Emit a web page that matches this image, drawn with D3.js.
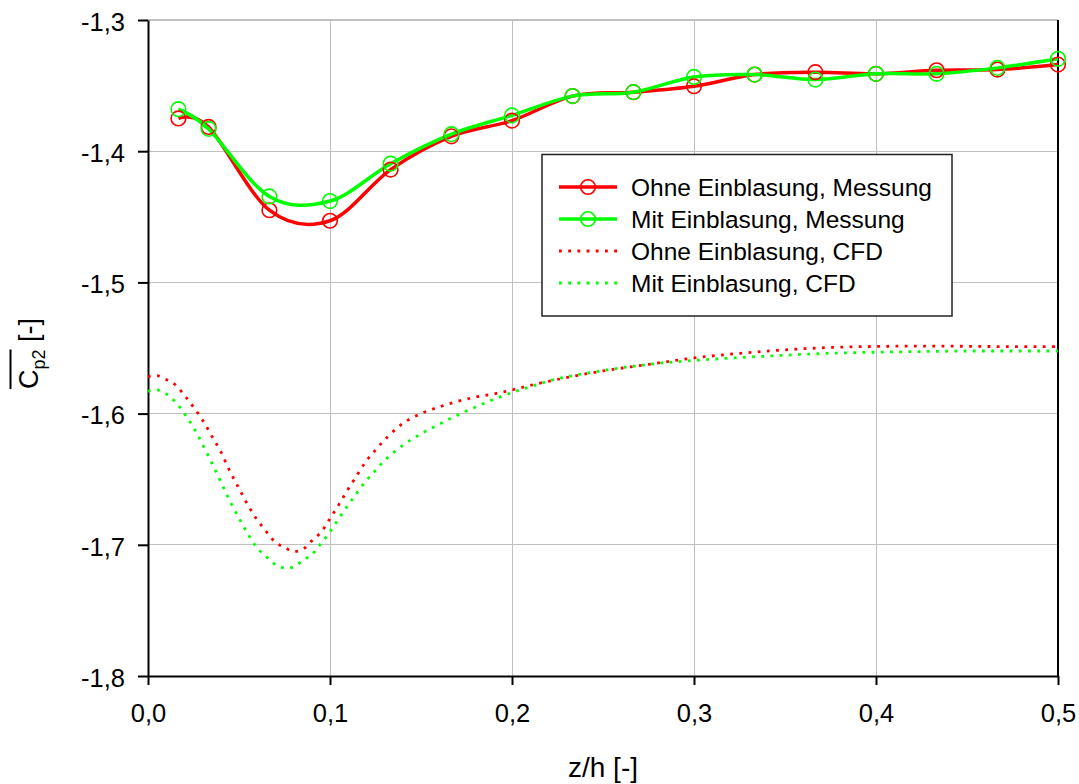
<!DOCTYPE html>
<html><head><meta charset="utf-8">
<script src="https://cdn.jsdelivr.net/npm/d3@7"></script>
<style>
body{margin:0;background:#fff}
svg{display:block}
text{font-family:"Liberation Sans",Arial,Helvetica,sans-serif;fill:#000}
</style>
</head><body>
<svg id="chart" width="1079" height="784"></svg>
<script>
// ---- data ----
const xTicks = [0, 0.1, 0.2, 0.3, 0.4, 0.5];
const yTicks = [-1.8, -1.7, -1.6, -1.5, -1.4, -1.3];

const zMess = [0.0167, 0.0333, 0.0667, 0.1, 0.1333, 0.1667, 0.2, 0.2333, 0.2667, 0.3, 0.3333, 0.3667, 0.4, 0.4333, 0.4667, 0.5];
const ohneMess = [-1.375, -1.3815, -1.445, -1.453, -1.414, -1.3887, -1.3767, -1.358, -1.355, -1.3505, -1.3416, -1.3398, -1.341, -1.3383, -1.3378, -1.334];
const mitMess  = [-1.368, -1.383, -1.4345, -1.438, -1.4095, -1.387, -1.3727, -1.358, -1.355, -1.3434, -1.3416, -1.3454, -1.341, -1.341, -1.3365, -1.3296];

const zCFD = [0, 0.005, 0.01, 0.015, 0.02, 0.025, 0.03, 0.035, 0.04, 0.045, 0.05, 0.055, 0.06, 0.065, 0.07, 0.075, 0.08, 0.085, 0.09, 0.095, 0.1, 0.105, 0.11, 0.115, 0.12, 0.125, 0.13, 0.14, 0.15, 0.16, 0.17, 0.18, 0.19, 0.2, 0.21, 0.225, 0.25, 0.275, 0.3, 0.325, 0.35, 0.375, 0.4, 0.425, 0.45, 0.475, 0.5];
const ohneCFD = [-1.572, -1.571, -1.574, -1.578, -1.586, -1.595, -1.605, -1.617, -1.629, -1.644, -1.657, -1.670, -1.681, -1.690, -1.698, -1.702, -1.705, -1.7035, -1.697, -1.6905, -1.680, -1.669, -1.6575, -1.6467, -1.636, -1.6278, -1.620, -1.6075, -1.600, -1.5949, -1.5907, -1.5874, -1.585, -1.582, -1.5785, -1.574, -1.5675, -1.5625, -1.5576, -1.5541, -1.5514, -1.5496, -1.5488, -1.5485, -1.5487, -1.549, -1.549];
const mitCFD = [-1.583, -1.582, -1.585, -1.591, -1.600, -1.6106, -1.6235, -1.6374, -1.652, -1.6666, -1.6798, -1.692, -1.7024, -1.709, -1.715, -1.7177, -1.7168, -1.712, -1.7074, -1.699, -1.690, -1.6796, -1.6697, -1.660, -1.651, -1.6433, -1.6357, -1.6241, -1.6154, -1.6081, -1.6012, -1.595, -1.5891, -1.584, -1.5795, -1.5735, -1.5672, -1.5625, -1.5595, -1.5573, -1.5555, -1.554, -1.5532, -1.5527, -1.5523, -1.5523, -1.5523];

const legendLabels = ["Ohne Einblasung, Messung", "Mit Einblasung, Messung", "Ohne Einblasung, CFD", "Mit Einblasung, CFD"];
const xTitle = "z/h [-]";

// ---- chart ----
const RED = "#ff0000", GREEN = "#00ff00";
const svg = d3.select("#chart");
const L = 148, R = 1058, T = 20, B = 676;
const x = d3.scaleLinear().domain([0, 0.5]).range([L, R]);
const y = d3.scaleLinear().domain([-1.8, -1.3]).range([B, T]);
const fmt = v => v.toFixed(1).replace(".", ",");

// grid
const grid = svg.append("g").attr("shape-rendering", "crispEdges");
grid.selectAll("line.gx").data(xTicks.filter(v => v > 0 && v < 0.5)).join("line")
  .attr("x1", d => x(d)).attr("x2", d => x(d)).attr("y1", T).attr("y2", B)
  .attr("stroke", "#c0c0c0").attr("stroke-width", 1);
grid.selectAll("line.gy").data(yTicks.filter(v => v > -1.8)).join("line")
  .attr("y1", d => y(d)).attr("y2", d => y(d)).attr("x1", L).attr("x2", R)
  .attr("stroke", "#c0c0c0").attr("stroke-width", d => d === -1.3 ? 2 : 1);

// right border
svg.append("line").attr("x1", R).attr("x2", R).attr("y1", T).attr("y2", B)
  .attr("stroke", "#000").attr("stroke-width", 2);

// axes
const gx = svg.append("g").attr("transform", `translate(0,${B})`)
  .call(d3.axisBottom(x).tickValues(xTicks).tickFormat(fmt).tickSize(9).tickSizeOuter(0));
const gy = svg.append("g").attr("transform", `translate(${L},0)`)
  .call(d3.axisLeft(y).tickValues(yTicks).tickFormat(fmt).tickSize(10).tickSizeOuter(0));
[gx, gy].forEach(g => {
  g.select(".domain").attr("stroke", "#000").attr("stroke-width", 2);
  g.selectAll(".tick line").attr("stroke", "#000").attr("stroke-width", 2);
  g.selectAll("text").attr("font-size", 25.5).attr("font-family", '"Liberation Sans",Arial,sans-serif').attr("fill", "#000");
});
gx.selectAll(".tick text").attr("y", 46).attr("dy", 0);
gy.selectAll(".tick text").attr("x", -23).attr("dy", "0.4em");

// clip
svg.append("clipPath").attr("id", "clip").append("rect")
  .attr("x", L - 12).attr("y", T - 12).attr("width", R - L + 24).attr("height", B - T + 24);
const plot = svg.append("g").attr("clip-path", "url(#clip)");

// CFD dotted
const lineCFD = d3.line().x(d => x(d[0])).y(d => y(d[1])).curve(d3.curveCatmullRom);
const dotDash = "2.8 6.4";
[[ohneCFD, RED], [mitCFD, GREEN]].forEach(([vals, col]) => {
  plot.append("path").datum(zCFD.map((z, i) => [z, vals[i]]))
    .attr("d", lineCFD).attr("fill", "none").attr("stroke", col)
    .attr("stroke-width", 2.8).attr("stroke-dasharray", dotDash);
});

// measurements
const lineM = d3.line().x(d => x(d[0])).y(d => y(d[1])).curve(d3.curveCardinal.tension(0));
[[ohneMess, RED], [mitMess, GREEN]].forEach(([vals, col]) => {
  const pts = zMess.map((z, i) => [z, vals[i]]);
  plot.append("path").datum(pts).attr("d", lineM).attr("fill", "none")
    .attr("stroke", col).attr("stroke-width", 3.5).attr("stroke-linejoin", "round");
});
[[ohneMess, RED], [mitMess, GREEN]].forEach(([vals, col]) => {
  const pts = zMess.map((z, i) => [z, vals[i]]);
  plot.selectAll(null).data(pts).join("circle")
    .attr("cx", d => x(d[0])).attr("cy", d => y(d[1])).attr("r", 7.3)
    .attr("fill", "none").attr("stroke", col).attr("stroke-width", 1.6);
});

// legend
const lg = svg.append("g");
lg.append("rect").attr("x", 542).attr("y", 154.5).attr("width", 410).attr("height", 161.5)
  .attr("fill", "#fff").attr("stroke", "#222").attr("stroke-width", 1.5);
const styles = [
  {col: RED, dash: null, marker: true},
  {col: GREEN, dash: null, marker: true},
  {col: RED, dash: dotDash, marker: false},
  {col: GREEN, dash: dotDash, marker: false}
];
legendLabels.forEach((lab, i) => {
  const cy = 187 + i * 32;
  const s = styles[i];
  const ln = lg.append("line").attr("x1", 559).attr("x2", 617).attr("y1", cy).attr("y2", cy)
    .attr("stroke", s.col).attr("stroke-width", s.dash ? 2.8 : 3.5);
  if (s.dash) ln.attr("stroke-dasharray", s.dash);
  if (s.marker) lg.append("circle").attr("cx", 588).attr("cy", cy).attr("r", 7.3)
    .attr("fill", "none").attr("stroke", s.col).attr("stroke-width", 1.6);
  lg.append("text").attr("x", 631).attr("y", cy).attr("dy", "0.36em")
    .attr("font-size", 24.5).text(lab);
});

// axis titles
svg.append("text").attr("x", (L + R) / 2).attr("y", 777).attr("text-anchor", "middle")
  .attr("font-size", 28).text(xTitle);

const yt = svg.append("text").attr("transform", "translate(38,389) rotate(-90)").attr("font-size", 27);
const tC = yt.append("tspan").text("C");
const tSub = yt.append("tspan").attr("font-size", 18).attr("dy", 7).text("p2");
yt.append("tspan").attr("dy", -7).text(" [-]");
const ovLen = tC.node().getComputedTextLength() + tSub.node().getComputedTextLength();
svg.append("line").attr("transform", "translate(38,389) rotate(-90)")
  .attr("x1", 0).attr("x2", ovLen).attr("y1", -27.5).attr("y2", -27.5)
  .attr("stroke", "#000").attr("stroke-width", 2);
</script>
</body></html>
